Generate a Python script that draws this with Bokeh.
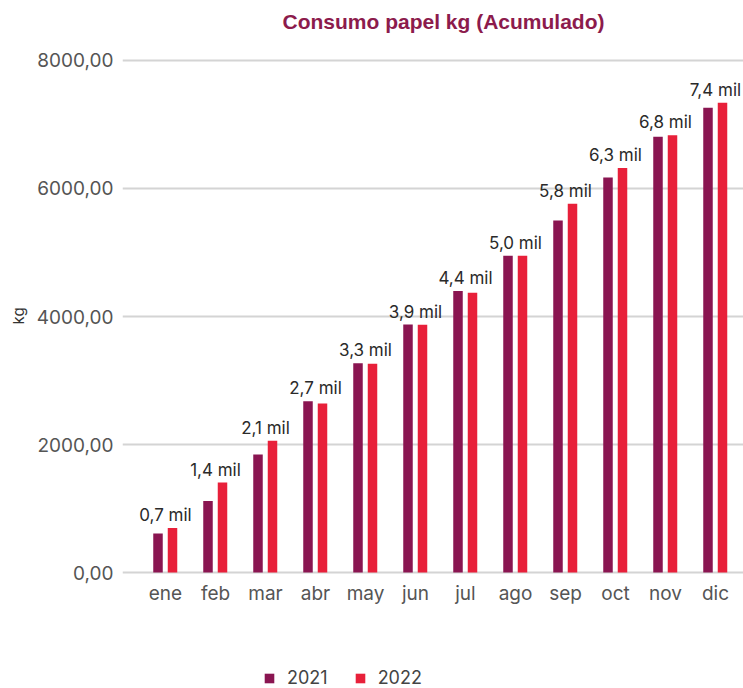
from bokeh.plotting import figure
from bokeh.models import Range1d, FixedTicker, Legend, LegendItem, ColumnDataSource, Title
from bokeh.transform import dodge
from bokeh.embed import file_html
from bokeh.resources import INLINE
from bokeh.core.properties import value

months = ["ene", "feb", "mar", "abr", "may", "jun", "jul", "ago", "sep", "oct", "nov", "dic"]
v2021 = [609, 1119, 1844, 2677, 3270, 3875, 4400, 4950, 5500, 6170, 6810, 7260]
v2022 = [697, 1406, 2060, 2641, 3260, 3870, 4370, 4950, 5760, 6320, 6830, 7340]
bar_labels = ["0,7 mil", "1,4 mil", "2,1 mil", "2,7 mil", "3,3 mil", "3,9 mil",
              "4,4 mil", "5,0 mil", "5,8 mil", "6,3 mil", "6,8 mil", "7,4 mil"]
y_ticks = [0, 2000, 4000, 6000, 8000]
y_tick_labels = ["0,00", "2000,00", "4000,00", "6000,00", "8000,00"]

C2021 = "#8a1551"
C2022 = "#e8203a"
FONT = "Inter"

idx = list(range(len(months)))
src = ColumnDataSource(dict(
    x=idx, v2021=v2021, v2022=v2022,
    top=[max(a, b) for a, b in zip(v2021, v2022)],
    label=bar_labels,
))

p = figure(width=743, height=688, output_backend="svg", toolbar_location=None,
           x_range=Range1d(-0.86, 11.56), y_range=Range1d(-1812, 8406),
           min_border_left=122, min_border_right=0, min_border_top=34,
           min_border_bottom=0)
p.outline_line_color = None
p.background_fill_color = "white"
p.border_fill_color = "white"

title = Title(text="Consumo papel kg (Acumulado)", align="left", offset=160, standoff=4,
              text_font="Liberation Sans", text_font_size="21px", text_font_style="bold",
              text_color="#8c1b4c")
p.add_layout(title, "above")

kg_title = Title(text="kg", align="left", offset=364, standoff=12,
                 text_font=FONT, text_font_size="15px", text_font_style="normal",
                 text_color="#333333")
p.add_layout(kg_title, "left")

r1 = p.vbar(x=dodge("x", -0.15, range=p.x_range), top="v2021", width=0.19, source=src,
            fill_color=C2021, line_color=None)
r2 = p.vbar(x=dodge("x", 0.14, range=p.x_range), top="v2022", width=0.19, source=src,
            fill_color=C2022, line_color=None)

p.text(x="x", y="top", text="label", source=src, text_align="center",
       text_baseline="bottom", y_offset=-3, text_font=value(FONT),
       text_font_size=value("17px"), text_color="#2a2a2a")

p.xgrid.visible = False
p.ygrid.grid_line_color = "#d4d4d4"
p.ygrid.grid_line_width = 2

p.yaxis.ticker = FixedTicker(ticks=y_ticks)
p.yaxis.major_label_overrides = {t: l for t, l in zip(y_ticks, y_tick_labels)}
p.yaxis.axis_line_color = None
p.yaxis.major_tick_line_color = None
p.yaxis.minor_tick_line_color = None
p.yaxis.major_tick_out = 0
p.yaxis.major_label_standoff = 9
p.yaxis.major_label_text_font = FONT
p.yaxis.major_label_text_font_size = "19px"
p.yaxis.major_label_text_color = "#555555"

p.xaxis.ticker = FixedTicker(ticks=idx)
p.xaxis.major_label_overrides = {i: m for i, m in zip(idx, months)}
p.xaxis.fixed_location = 0
p.xaxis.axis_line_color = None
p.xaxis.major_tick_line_color = None
p.xaxis.minor_tick_line_color = None
p.xaxis.major_tick_out = 0
p.xaxis.major_label_standoff = 9
p.xaxis.major_label_text_font = FONT
p.xaxis.major_label_text_font_size = "19px"
p.xaxis.major_label_text_color = "#555555"

legend = Legend(items=[LegendItem(label="2021", renderers=[r1]),
                       LegendItem(label="2022", renderers=[r2])],
                location=(141, 0), orientation="horizontal",
                label_text_font=FONT, label_text_font_size="18px",
                label_text_color="#444444", glyph_width=12, glyph_height=12,
                label_standoff=12, spacing=26, margin=0, padding=0,
                border_line_color=None, background_fill_alpha=0)
p.add_layout(legend, "center")

open("out.html", "w").write(file_html(p, INLINE))
